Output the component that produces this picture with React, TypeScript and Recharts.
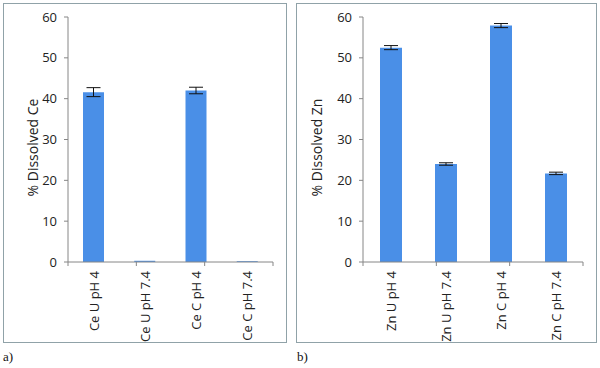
import React from 'react';
import { Bar, BarChart, ErrorBar, XAxis, YAxis } from 'recharts';

// panel a) cerium
const ceCategories = ['Ce U pH 4', 'Ce U pH 7.4', 'Ce C pH 4', 'Ce C pH 7.4'];
const ceValues = [41.6, 0.3, 42.0, 0.2];
const ceErrors = [1.1, 0, 0.8, 0];

// panel b) zinc
const znCategories = ['Zn U pH 4', 'Zn U pH 7.4', 'Zn C pH 4', 'Zn C pH 7.4'];
const znValues = [52.5, 24.0, 57.9, 21.7];
const znErrors = [0.5, 0.3, 0.5, 0.3];

const yTicks = [0, 10, 20, 30, 40, 50, 60];
const edgeTicks = [0, 1, 2, 3, 4];

const FONT = '"Open Sans", sans-serif';
const AXIS = '#868686';
const BAR = '#4a8fe7';

const RotTick = (props: any) => {
  const { x, y, payload } = props;
  return (
    <text
      x={x}
      y={y}
      transform={`rotate(-90 ${x} ${y})`}
      textAnchor="end"
      dominantBaseline="central"
      fontSize={13}
      fontFamily={FONT}
      fill="#222"
    >
      {payload.value}
    </text>
  );
};

interface PanelProps {
  categories: string[];
  values: number[];
  errors: number[];
  label: string;
  width: number;
  yAxisWidth: number;
  barSize: number;
  labelDx: number;
}

const Panel: React.FC<PanelProps> = ({ categories, values, errors, label, width, yAxisWidth, barSize, labelDx }) => {
  const data = categories.map((name, i) => ({ name, value: values[i], err: errors[i] }));
  return (
    <BarChart width={width} height={339} data={data} margin={{ top: 14, right: 14, bottom: 78, left: 0 }}>
      {/* category boundary tick marks, Excel style */}
      <XAxis
        xAxisId={0}
        type="number"
        domain={[0, 4]}
        ticks={edgeTicks}
        allowDataOverflow
        height={1}
        tickFormatter={() => ''}
        axisLine={{ stroke: AXIS }}
        tickLine={{ stroke: AXIS }}
        tickSize={4}
      />
      <XAxis
        xAxisId={1}
        dataKey="name"
        height={1}
        interval={0}
        tickLine={false}
        tickSize={0}
        tickMargin={8}
        axisLine={false}
        tick={<RotTick />}
      />
      <YAxis
        domain={[0, 60]}
        ticks={yTicks}
        width={yAxisWidth}
        tickSize={4}
        tickMargin={7}
        axisLine={{ stroke: AXIS }}
        tickLine={{ stroke: AXIS }}
        tick={{ fill: '#222', fontSize: 13, fontFamily: FONT }}
        label={{
          value: label,
          angle: -90,
          position: 'center',
          dx: labelDx,
          dy: 8,
          fill: '#222',
          fontSize: 14,
          fontFamily: FONT,
        }}
      />
      <Bar xAxisId={1} dataKey="value" fill={BAR} barSize={barSize} isAnimationActive={false}>
        <ErrorBar dataKey="err" width={7} stroke="#111" strokeWidth={1} />
      </Bar>
    </BarChart>
  );
};

const boxStyle: React.CSSProperties = {
  position: 'absolute',
  top: 3,
  height: 340,
  border: '1px solid #90a2a8',
  boxSizing: 'border-box',
};

const capStyle: React.CSSProperties = {
  position: 'absolute',
  top: 349,
  fontFamily: '"Liberation Serif", "Times New Roman", serif',
  fontSize: 13,
  color: '#111',
};

export default function App() {
  return (
    <div style={{ position: 'absolute', left: 0, top: 0, width: 600, height: 368, background: '#fff' }}>
      <div style={{ ...boxStyle, left: 3, width: 284 }}>
        <div style={{ position: 'absolute', left: -1, top: -1 }}>
          <Panel
            categories={ceCategories}
            values={ceValues}
            errors={ceErrors}
            label="% Dissolved Ce"
            width={284}
            yAxisWidth={65}
            barSize={21}
            labelDx={-2}
          />
        </div>
      </div>
      <div style={{ ...boxStyle, left: 296, width: 301 }}>
        <div style={{ position: 'absolute', left: -1, top: -1 }}>
          <Panel
            categories={znCategories}
            values={znValues}
            errors={znErrors}
            label="% Dissolved Zn"
            width={301}
            yAxisWidth={67}
            barSize={22}
            labelDx={-12}
          />
        </div>
      </div>
      <div style={{ ...capStyle, left: 3 }}>a)</div>
      <div style={{ ...capStyle, left: 297 }}>b)</div>
    </div>
  );
}
